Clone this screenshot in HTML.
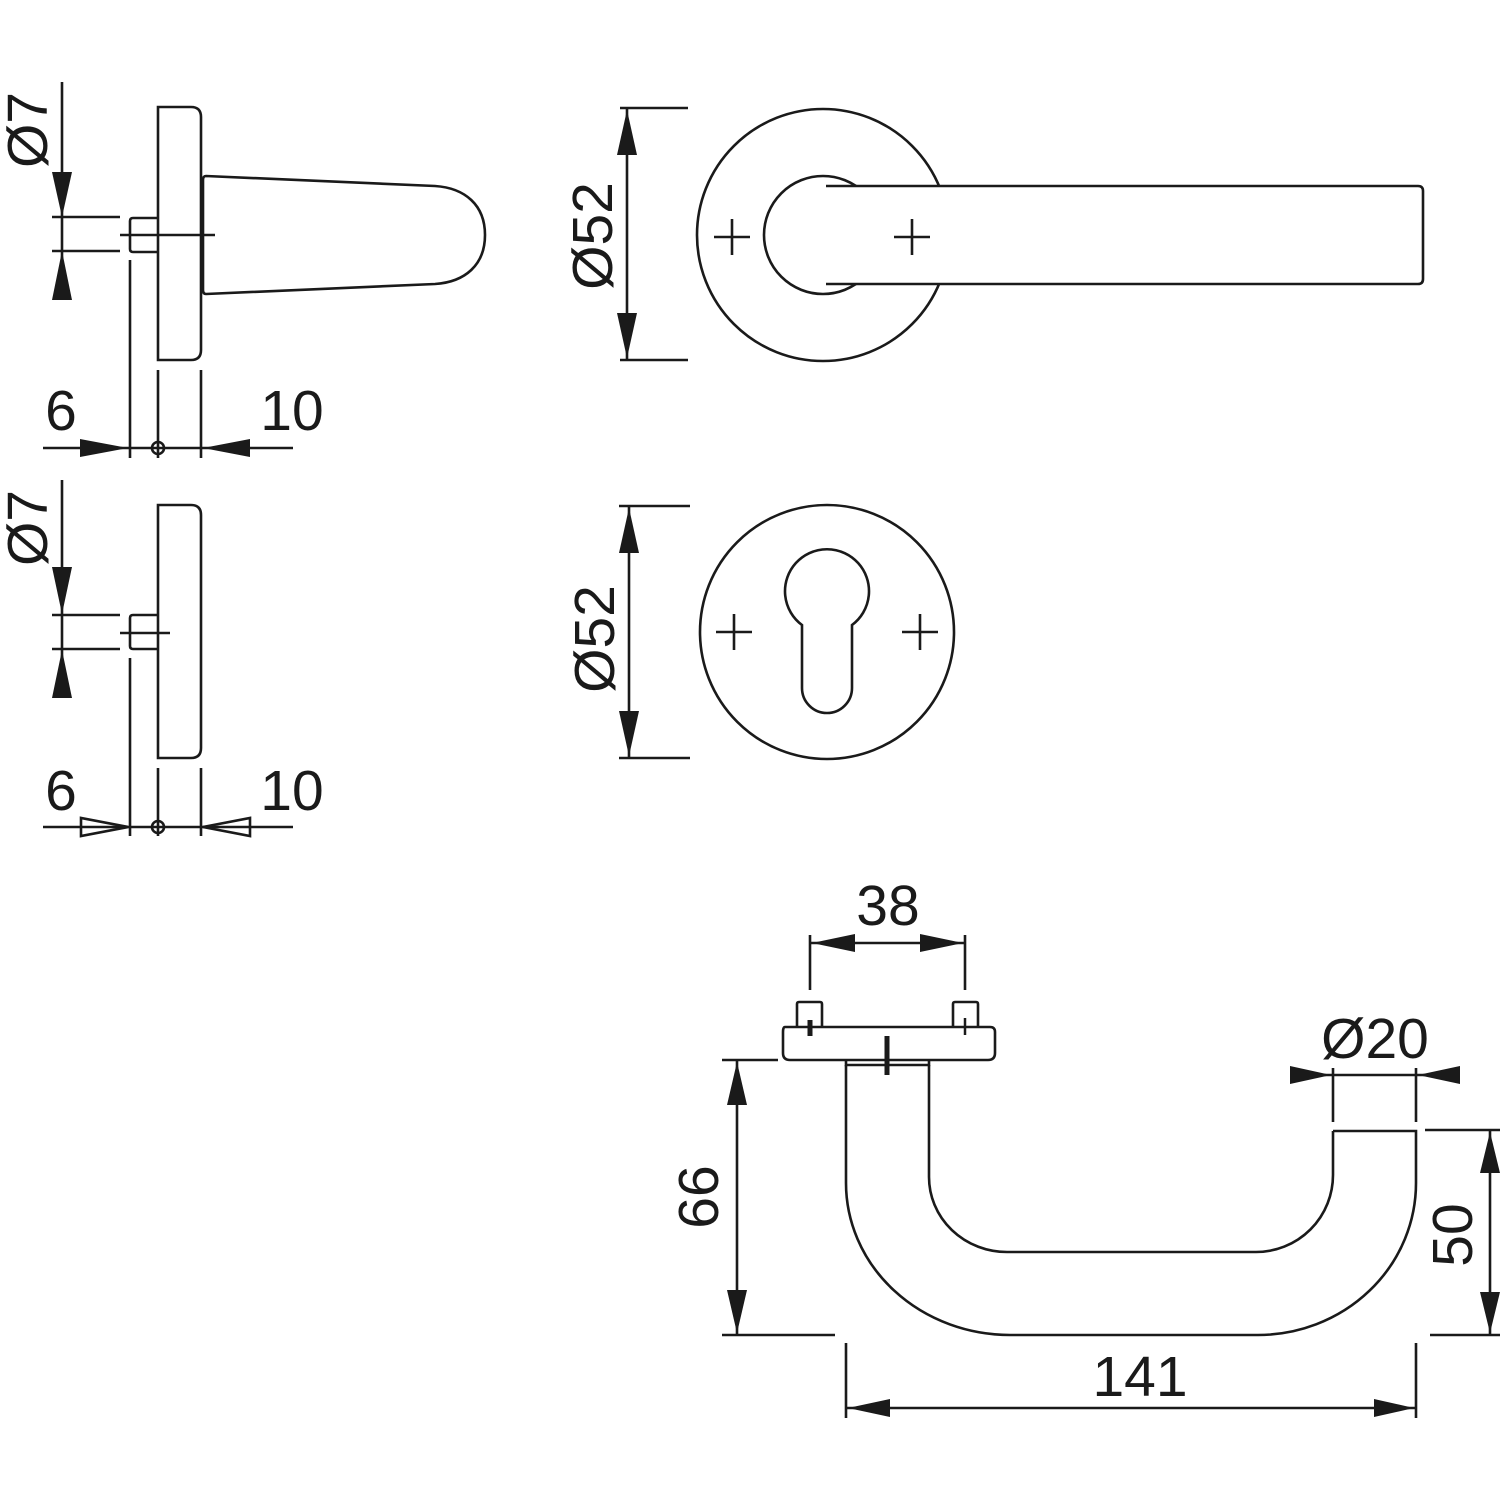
<!DOCTYPE html>
<html><head><meta charset="utf-8"><style>html,body{margin:0;padding:0;background:#fff}svg{display:block}text{font-family:"Liberation Sans",sans-serif;font-size:57px;fill:#1a1a1a}</style></head>
<body>
<svg width="1500" height="1500" viewBox="0 0 1500 1500" xmlns="http://www.w3.org/2000/svg">
<g fill="none" stroke="#1a1a1a" stroke-width="2.6">
<path d="M158,107 H191 Q201,107 201,117 V350 Q201,360 191,360 H158 Z"/>
<path d="M206,176 L435,186 C465,188 485,205 485,235 C485,265 465,282 435,284 L206,294 Q203,294 203,290 V180 Q203,176 206,176 Z"/>
<path d="M158,218 H133 Q130,218 130,221 V249 Q130,252 133,252 H158"/>
<line x1="120" y1="235" x2="215" y2="235"/>
<line x1="62" y1="82" x2="62" y2="300"/>
<line x1="52" y1="217" x2="120" y2="217"/>
<line x1="52" y1="251" x2="120" y2="251"/>
<line x1="130" y1="260" x2="130" y2="458"/>
<line x1="158" y1="370" x2="158" y2="458"/>
<line x1="201" y1="370" x2="201" y2="458"/>
<line x1="43" y1="448" x2="293" y2="448"/>
<circle cx="158" cy="448" r="6"/>
<path d="M158,505 H191 Q201,505 201,515 V748 Q201,758 191,758 H158 Z"/>
<path d="M158,615 H133 Q130,615 130,618 V646 Q130,649 133,649 H158"/>
<line x1="120" y1="633" x2="170" y2="633"/>
<line x1="62" y1="480" x2="62" y2="698"/>
<line x1="52" y1="615" x2="120" y2="615"/>
<line x1="52" y1="649" x2="120" y2="649"/>
<line x1="130" y1="658" x2="130" y2="836"/>
<line x1="158" y1="768" x2="158" y2="836"/>
<line x1="201" y1="768" x2="201" y2="836"/>
<line x1="43" y1="827" x2="293" y2="827"/>
<circle cx="158" cy="827" r="6"/>
<path d="M81,818 L81,836 L128,827 Z"/>
<path d="M250,818 L250,836 L203,827 Z"/>
<circle cx="823" cy="235" r="126"/>
<circle cx="823" cy="235" r="59"/>
<rect x="826" y="187" width="606" height="96" fill="#fff" stroke="none"/>
<path d="M826,186 H1418 Q1423,186 1423,191 V279 Q1423,284 1418,284 H826"/>
<line x1="620" y1="108" x2="688" y2="108"/>
<line x1="620" y1="360" x2="688" y2="360"/>
<line x1="627" y1="108" x2="627" y2="360"/>
<path d="M714,237 H750 M732,219 V255 M894,237 H930 M912,219 V255"/>
<circle cx="827" cy="632" r="127"/>
<path d="M802,625 A42,42 0 1 1 852,625 V688 A25,25 0 0 1 802,688 Z"/>
<line x1="619" y1="506" x2="690" y2="506"/>
<line x1="619" y1="758" x2="690" y2="758"/>
<line x1="629" y1="506" x2="629" y2="758"/>
<path d="M716,632 H752 M734,614 V650 M902,632 H938 M920,614 V650"/>
<path d="M785,1027 H990 Q995,1027 995,1032 V1053 Q995,1060 988,1060 H790 Q783,1060 783,1053 V1032 Q783,1027 785,1027 Z"/>
<path d="M797,1027 V1004 Q797,1002 799,1002 H820 Q822,1002 822,1004 V1027"/>
<path d="M953,1027 V1004 Q953,1002 955,1002 H976 Q978,1002 978,1004 V1027"/>
<path d="M846,1060 V1065 H929 V1060"/>
<path d="M846,1065 V1183 A164,152 0 0 0 1010,1335 H1258 A158,152 0 0 0 1416,1183 V1131 H1333"/>
<path d="M929,1065 V1177 A78,75 0 0 0 1007,1252 H1256 A77,77 0 0 0 1333,1175 V1131"/>
<line x1="810" y1="935" x2="810" y2="990"/>
<line x1="965" y1="935" x2="965" y2="990"/>
<line x1="810" y1="943" x2="965" y2="943"/>
<line x1="1290" y1="1075" x2="1460" y2="1075"/>
<line x1="1333" y1="1068" x2="1333" y2="1122"/>
<line x1="1416" y1="1068" x2="1416" y2="1122"/>
<line x1="722" y1="1060" x2="778" y2="1060"/>
<line x1="722" y1="1335" x2="835" y2="1335"/>
<line x1="737" y1="1060" x2="737" y2="1335"/>
<line x1="1425" y1="1130" x2="1500" y2="1130"/>
<line x1="1430" y1="1335" x2="1500" y2="1335"/>
<line x1="1490" y1="1130" x2="1490" y2="1335"/>
<line x1="846" y1="1343" x2="846" y2="1418"/>
<line x1="1416" y1="1343" x2="1416" y2="1418"/>
<line x1="846" y1="1408" x2="1416" y2="1408"/>
</g>
<g stroke="#1a1a1a" stroke-width="5" fill="none">
<line x1="887" y1="1036" x2="887" y2="1075"/>
<line x1="810" y1="1020" x2="810" y2="1036"/>
<line x1="965" y1="1018" x2="965" y2="1035" stroke-width="2.5"/>
</g>
<g fill="#1a1a1a">
<path d="M52,172 L72,172 L62,217 Z"/>
<path d="M52,300 L72,300 L62,251 Z"/>
<path d="M80,439 L80,457 L128,448 Z"/>
<path d="M250,439 L250,457 L203,448 Z"/>
<path d="M52,567 L72,567 L62,614 Z"/>
<path d="M52,698 L72,698 L62,650 Z"/>
<path d="M617,155 L637,155 L627,110 Z"/>
<path d="M617,313 L637,313 L627,358 Z"/>
<path d="M619,553 L639,553 L629,508 Z"/>
<path d="M619,711 L639,711 L629,756 Z"/>
<path d="M855,934 L855,952 L812,943 Z"/>
<path d="M920,934 L920,952 L963,943 Z"/>
<path d="M1290,1066 L1290,1084 L1331,1075 Z"/>
<path d="M1460,1066 L1460,1084 L1418,1075 Z"/>
<path d="M727,1105 L747,1105 L737,1062 Z"/>
<path d="M727,1290 L747,1290 L737,1333 Z"/>
<path d="M1480,1173 L1500,1173 L1490,1132 Z"/>
<path d="M1480,1292 L1500,1292 L1490,1333 Z"/>
<path d="M890,1399 L890,1417 L848,1408 Z"/>
<path d="M1374,1399 L1374,1417 L1414,1408 Z"/>
</g>
<text x="47" y="130" text-anchor="middle" transform="rotate(-90 47 130)">Ø7</text>
<text x="47" y="528" text-anchor="middle" transform="rotate(-90 47 528)">Ø7</text>
<text x="61" y="430" text-anchor="middle">6</text>
<text x="292" y="430" text-anchor="middle">10</text>
<text x="61" y="810" text-anchor="middle">6</text>
<text x="292" y="810" text-anchor="middle">10</text>
<text x="612" y="236" text-anchor="middle" transform="rotate(-90 612 236)">Ø52</text>
<text x="614" y="639" text-anchor="middle" transform="rotate(-90 614 639)">Ø52</text>
<text x="888" y="925" text-anchor="middle">38</text>
<text x="1375" y="1058" text-anchor="middle">Ø20</text>
<text x="718" y="1197" text-anchor="middle" transform="rotate(-90 718 1197)">66</text>
<text x="1472" y="1235" text-anchor="middle" transform="rotate(-90 1472 1235)">50</text>
<text x="1140" y="1396" text-anchor="middle">141</text>
</svg>
</body></html>
